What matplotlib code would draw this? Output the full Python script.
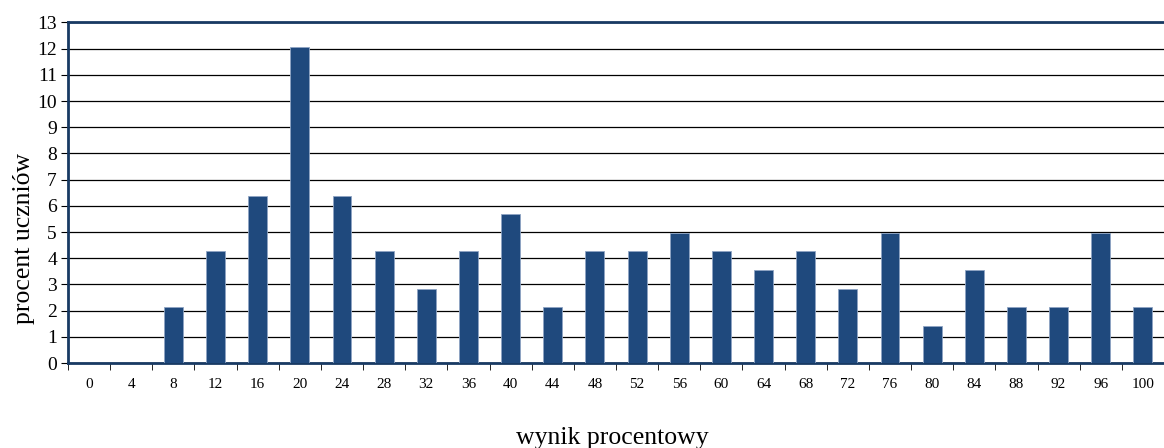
import matplotlib.pyplot as plt
import numpy as np

plt.rcParams['font.family'] = ['Liberation Serif', 'DejaVu Serif']

# wynik procentowy (kategorie) i procent uczniów
scores = [0, 4, 8, 12, 16, 20, 24, 28, 32, 36, 40, 44, 48, 52, 56, 60, 64,
          68, 72, 76, 80, 84, 88, 92, 96, 100]
percent = [0, 0, 2.13, 4.26, 6.38, 12.06, 6.38, 4.26, 2.84, 4.26, 5.67, 2.13,
           4.26, 4.26, 4.96, 4.26, 3.55, 4.26, 2.84, 4.96, 1.42, 3.55, 2.13,
           2.13, 4.96, 2.13]
y_ticks = list(range(0, 14))

navy = "#1F497D"


def graph():
    fig = plt.figure(figsize=(11.64, 4.48), dpi=100)
    ax = fig.add_axes([68 / 1164, 1 - 363 / 448, 1096 / 1164, 340.5 / 448])

    x = np.arange(len(scores))
    ax.bar(x, percent, width=0.45, color=navy, edgecolor="#8EA4C3",
           linewidth=0.6, zorder=3)

    ax.set_xlim(-0.5, len(scores) - 0.5)
    ax.set_ylim(0, 13)
    ax.set_yticks(y_ticks)
    ax.set_yticklabels([str(v) for v in y_ticks], fontsize=14)
    ax.set_xticks(x)
    ax.set_xticklabels([str(s) for s in scores], fontsize=11)
    ax.tick_params(axis="x", length=0, pad=11)
    ax.set_xticks(np.arange(-0.5, len(scores), 1), minor=True)
    ax.tick_params(axis="x", which="minor", length=5, direction="out",
                   color="black")
    ax.tick_params(axis="y", length=5, direction="out", color="black", pad=3)

    ax.grid(axis="y", color="black", linewidth=0.9, zorder=0)
    for s in ["left", "bottom", "top"]:
        ax.spines[s].set_color("#183A63")
        ax.spines[s].set_linewidth(2)
    ax.spines["right"].set_visible(False)

    # opisy osi
    fig.text(24 / 1164, 1 - 238 / 448, "procent uczniów", fontsize=18.5,
             rotation=90, ha="center", va="center")
    fig.text(612 / 1164, 1 - 438 / 448, "wynik procentowy",
             fontsize=18.5, ha="center", va="center")

    fig.savefig("out.png", dpi=100)


def main():
    graph()


if __name__ == "__main__":
    main()
